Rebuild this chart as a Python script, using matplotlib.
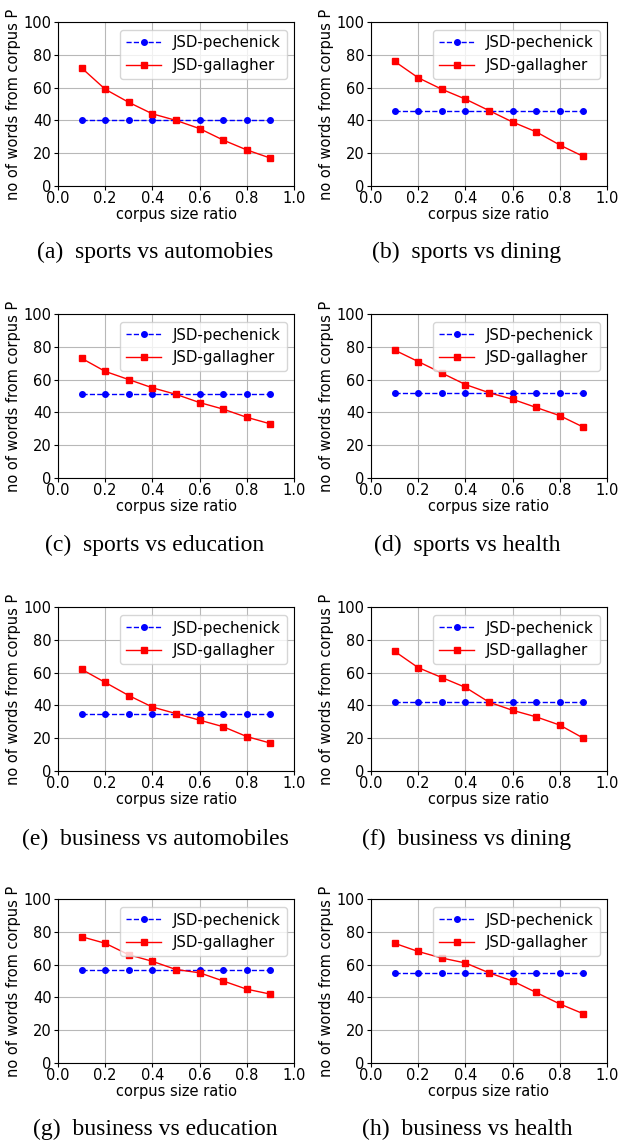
import matplotlib
matplotlib.use("Agg")
import matplotlib.pyplot as plt

ratio = [0.1, 0.2, 0.3, 0.4, 0.5, 0.6, 0.7, 0.8, 0.9]

captions = ["(a)  sports vs automobies", "(b)  sports vs dining",
            "(c)  sports vs education", "(d)  sports vs health",
            "(e)  business vs automobiles", "(f)  business vs dining",
            "(g)  business vs education", "(h)  business vs health"]

pechenick = [40, 46, 51, 52, 35, 42, 57, 55]

gallagher_a = [72, 59, 51, 44, 40, 35, 28, 22, 17]
gallagher_b = [76, 66, 59, 53, 46, 39, 33, 25, 18]
gallagher_c = [73, 65, 60, 55, 51, 46, 42, 37, 33]
gallagher_d = [78, 71, 64, 57, 52, 48, 43, 38, 31]
gallagher_e = [62, 54, 46, 39, 35, 31, 27, 21, 17]
gallagher_f = [73, 63, 57, 51, 42, 37, 33, 28, 20]
gallagher_g = [77, 73, 66, 62, 57, 55, 50, 45, 42]
gallagher_h = [73, 68, 64, 61, 55, 50, 43, 36, 30]
gallagher = [gallagher_a, gallagher_b, gallagher_c, gallagher_d,
             gallagher_e, gallagher_f, gallagher_g, gallagher_h]

W, H = 620, 1142
fig = plt.figure(figsize=(W / 100, H / 100), dpi=100)

lefts = [58, 371]
tops = [22, 314, 607, 899]
cap_y = [252, 545, 839, 1129]
cap_x = [155, 467]
aw, ah = 236, 164

for i in range(8):
    r, c = divmod(i, 2)
    ax = fig.add_axes([lefts[c] / W, 1 - (tops[r] + ah) / H, aw / W, ah / H])
    ax.plot(ratio, [pechenick[i]] * len(ratio), color='blue', ls='--', lw=1,
            marker='o', ms=4, label='JSD-pechenick')
    ax.plot(ratio, gallagher[i], color='red', ls='-', lw=1,
            marker='s', ms=4, label='JSD-gallagher')
    ax.set_xlim(0, 1)
    ax.set_ylim(0, 100)
    ax.set_xticks([0, 0.2, 0.4, 0.6, 0.8, 1.0])
    ax.set_yticks([0, 20, 40, 60, 80, 100])
    ax.tick_params(labelsize=10.5, length=3)
    ax.tick_params(axis='x', pad=0.5)
    ax.tick_params(axis='y', pad=1.5)
    ax.grid(True, color='#b8b8b8', lw=0.8)
    ax.set_xlabel('corpus size ratio', fontsize=10.5, labelpad=1)
    ax.set_ylabel('no of words from corpus P', fontsize=10.5, labelpad=2)
    ax.legend(loc='upper right', fontsize=10.8, handlelength=2.3,
              handletextpad=0.8)
    fig.text(cap_x[c] / W, 1 - cap_y[r] / H, captions[i], ha='center', va='center',
             family='Liberation Serif', fontsize=17)

fig.savefig('out.png', dpi=100)
